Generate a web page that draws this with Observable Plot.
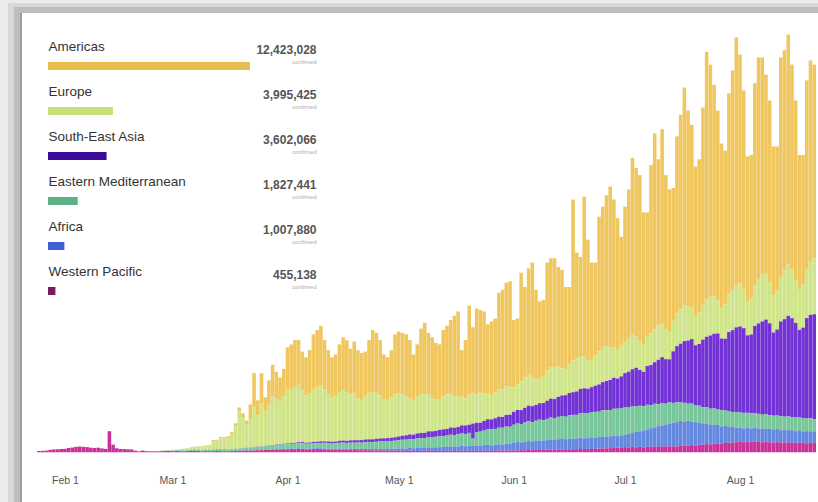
<!DOCTYPE html>
<html><head><meta charset="utf-8">
<script src="https://cdn.jsdelivr.net/npm/d3@7"></script>
<script src="https://cdn.jsdelivr.net/npm/@observablehq/plot@0.6"></script>
<style>
html,body{margin:0;padding:0;width:818px;height:502px;overflow:hidden;background:#ececec;}
#f1{position:absolute;left:8px;top:3px;right:0;bottom:0;background:#d8d8d8;}
#f2{position:absolute;left:14px;top:7px;right:0;bottom:0;background:#bebebe;}
#f3{position:absolute;left:20px;top:13px;right:0;bottom:0;background:#9c9c9c;}
#card{position:absolute;left:22px;top:13px;width:796px;height:489px;background:#fff;overflow:hidden;}
#chart,#legend{position:absolute;left:0;top:0;}
</style></head><body>
<div id="f1"></div><div id="f2"></div><div id="f3"></div>
<div id="card"><div id="chart"></div><div id="legend"></div></div>
<script>
// ---- categories ----
const regions = ["Americas","Europe","South-East Asia","Eastern Mediterranean","Africa","Western Pacific"];
const stackOrder = ["Western Pacific","Africa","Eastern Mediterranean","South-East Asia","Europe","Americas"];
const totals = [12423028, 3995425, 3602066, 1827441, 1007880, 455138];
const firstDay = "2020-01-25";           // first daily value
const axisStart = "2020-01-20", axisEnd = "2020-08-22";
const tickDates = ["2020-02-01","2020-03-01","2020-04-01","2020-05-01","2020-06-01","2020-07-01","2020-08-01"];
const tickLabels = ["Feb 1","Mar 1","Apr 1","May 1","Jun 1","Jul 1","Aug 1"];

// ---- daily confirmed cases, thousands (Jan 25 – Aug 21, 2020) ----
const americas = [
 0,0,0,0,0,0,0,
 0,0,0,0,0,0,0,0,0,0,0,0,0,0,0,0,0,0,0,0,0,0,0,0,0.01,0.01,0.02,0.02,0.03,
 0.05,0.05,0.05,0.1,0.1,0.2,0.2,0.3,0.4,0.4,0.5,0.7,0.8,1.0,1.1,1.3,1.5,2.0,2.6,3.2,3,10,23.5,10.3,21,9.7,16.4,22,18.8,16.5,19.3,
 29.1,31.6,32.6,31.2,27.1,26.5,30.4,38,39.9,41.5,34.6,30.7,27.8,28.8,33.2,37,36.2,31.9,35.8,33.8,32.7,31.3,37.2,43.2,41.8,38.6,31.5,30.3,33.1,41.7,
 43.2,42.7,43.4,40.8,31.9,36.1,45.7,49.7,42.6,41.6,39.3,38.6,46.2,47.9,52.0,56.1,59.6,32.5,40.5,62.0,46.2,59.7,57.6,57.3,48.2,51.3,51.5,67.4,69.6,72.2,74.0,
 47.0,45.7,75.8,63.2,74.7,80.1,62.2,54.0,52.9,75.3,75.8,76.1,69.5,68.6,57.4,53.9,112.3,73.8,69.1,111.6,83.9,67.8,64.8,93.9,98.3,105.5,111.8,103.3,91.8,75.3,
 94.0,104.0,123.3,117.3,115.8,92.1,86.1,117.4,136.4,115.7,135.9,107.3,99.4,92.8,123.2,135.5,151.7,136.3,127.3,104.6,106.7,137.7,172.7,161.8,147.6,132.4,114.9,107.1,139.4,153.1,173.1,
 159.5,138.7,100.7,100.1,141.1,154.4,151.0,138.7,126.3,103.7,100.6,153.0,153.4,160.1,142.7,125.0,93.9,90.3,131.7,140.4,135.0];
const europe = [
 0,0,0,0,0,0,0,
 0,0,0,0,0,0,0,0,0,0,0,0,0,0,0,0,0,0,0,0,0.02,0.05,0.08,0.08,0.1,0.1,0.2,0.3,0.25,
 0.45,0.55,0.75,1.1,1.3,1.6,1.8,2.2,2.6,2.6,3.0,6.0,5.7,7.5,7.3,7.8,10.5,15.8,26,21,16,20,28,22,30,24,29,34,32,30,33,
 38,37,39,40,36,33,34,37,38,39,36,33,31,32,34,35,34,32,33,29,28,30,32,33,32,30,27,26,28,30,
 30,29,27,25,24,26,27,27,26,24,22,21,23,24,23,22,21,20,19,21,21,20,21,19,18,17,18,19,19,20,19,
 17,18,20,21,21,20,18,17,19,21,22,22,21,19,18,20,22,23,23,22,20,19,21,23,24,24,23,21,20,22,
 22,23,24,22,20,19,21,22,23,24,23,21,19,21,23,24,25,24,22,20,22,24,26,27,26,23,21,24,27,28,29,
 30,27,24,25,28,31,33,32,29,26,27,31,34,36,34,30,28,30,34,37,39];
const seAsia = [
 0,0,0,0,0,0,0,
 0,0,0,0,0,0,0,0,0,0,0,0,0,0,0,0,0,0,0,0,0,0,0,0,0,0,0,0,0,
 0,0,0,0,0,0,0.01,0.01,0.01,0.02,0.02,0.02,0.03,0.03,0.04,0.05,0.05,0.06,0.08,0.1,0.1,0.12,0.15,0.15,0.18,0.2,0.25,0.3,0.3,0.35,0.4,
 0.5,0.6,0.6,0.7,0.8,0.7,0.8,0.9,1.0,1.1,1.0,1.2,1.3,1.2,1.4,1.5,1.4,1.6,1.7,1.6,1.8,1.9,1.8,2.0,2.1,2.0,2.2,2.3,2.2,2.4,
 2.6,2.8,3.0,3.3,3.1,3.5,3.8,3.6,4.0,4.3,4.1,4.5,4.7,4.6,5.0,5.3,5.1,5.6,5.9,5.7,10.5,6.4,6.2,6.8,7.0,6.9,7.4,7.7,7.5,8.1,8.4,
 9.0,9.4,9.8,10.3,10.8,11.2,11.0,11.5,12.0,12.6,13.2,13.6,14.0,14.3,15.0,15.5,15.8,16.3,16.9,17.5,17.0,17.4,18.2,19.0,19.7,20.4,21.0,21.6,21.0,22.3,
 24,25,26,27,25,24,27,28,29,31,32,31,30,36,39,41,43,44,45,42,43,47,49,51,52,53,50,50,55,57,59,
 60,59,54,55,61,63,65,66,64,58,60,66,68,70,69,66,61,63,70,72,73];
const eastMed = [
 0,0,0,0,0,0,0,
 0,0,0,0,0,0,0,0,0,0,0,0,0,0,0,0,0,0,0,0.01,0.02,0.03,0.04,0.03,0.05,0.1,0.15,0.2,0.2,
 0.4,0.5,0.6,0.6,0.7,1.0,1.0,0.8,0.7,0.9,1.0,1.1,1.3,1.4,1.5,1.3,1.3,1.4,1.5,1.7,1.8,1.9,2.1,2.2,2.3,2.5,2.6,2.7,2.9,3.0,3.1,
 3.3,3.4,3.5,3.6,3.7,3.5,3.4,3.6,3.5,3.8,3.9,3.7,3.6,3.8,3.9,4.1,4.0,4.2,4.3,4.5,4.4,4.6,4.8,4.7,5.0,5.2,5.1,5.3,5.4,5.6,
 5.8,6.0,6.2,6.1,6.4,6.6,6.5,6.9,7.1,7.0,7.3,7.6,7.5,7.9,8.2,8.0,8.4,8.7,8.6,9.0,5.0,9.4,9.8,10.1,10.8,11.2,11.0,11.5,11.9,12.2,12.0,
 12.5,13.0,12.7,13.3,13.8,13.5,14.1,14.5,14.2,14.8,15.3,15.0,15.6,16.0,15.7,16.3,16.7,16.4,17.0,17.4,17.1,17.6,18.0,17.7,18.2,18.6,18.3,18.8,19.1,18.8,
 19.0,18.4,18.5,17.6,17.8,16.9,17.1,16.0,16.4,15.3,15.6,14.5,14.9,13.7,14.0,12.8,13.2,12.1,12.5,11.6,12.1,11.3,11.8,11.0,11.6,10.8,11.4,10.7,11.2,10.5,10.9,
 10.5,10.9,10.2,10.6,9.9,10.4,9.8,10.2,9.6,10.0,9.4,9.8,9.3,9.7,9.1,9.5,9.0,9.3,8.8,9.2,8.6];
const africa = [
 0,0,0,0,0,0,0,
 0,0,0,0,0,0,0,0,0,0,0,0,0,0,0,0,0,0,0,0,0,0,0,0,0,0,0,0,0,
 0,0,0,0,0,0,0,0,0,0,0,0,0,0,0.02,0.03,0.05,0.05,0.06,0.08,0.1,0.1,0.12,0.15,0.15,0.2,0.2,0.25,0.25,0.3,0.3,
 0.3,0.35,0.4,0.4,0.4,0.45,0.5,0.5,0.5,0.55,0.6,0.6,0.55,0.6,0.7,0.7,0.75,0.8,0.8,0.8,0.9,0.9,1.0,1.0,1.1,1.1,1.2,1.2,1.3,1.4,
 1.5,1.7,1.6,1.9,1.8,2.1,2.2,2.0,2.4,2.3,2.6,2.5,2.8,2.7,3.0,2.9,3.1,3.3,3.2,3.5,3.4,3.7,3.6,3.9,4.1,3.8,4.2,4.4,4.1,4.5,4.6,
 5.5,5.8,5.4,6.0,6.3,5.9,6.2,6.6,6.3,6.8,7.0,6.7,7.1,7.4,7.0,7.5,7.2,7.6,7.9,7.5,7.8,8.1,7.7,8.0,8.3,7.9,8.2,8.5,8.1,8.4,
 8.6,9.4,9.6,10.8,10.9,11.8,12.1,13.2,13.4,14.5,14.6,15.6,15.7,16.8,16.9,17.5,16.6,17.3,16.4,16.2,15.1,15.0,14.0,13.9,13.0,12.8,11.8,11.9,10.8,10.9,10.1,
 10.0,9.6,9.9,9.4,9.7,9.2,9.5,9.0,9.3,8.8,9.1,8.6,8.9,8.4,8.7,8.3,8.5,8.1,8.4,7.9,8.2];
const westPac = [
 0.7,0.8,1.0,1.5,1.8,1.9,2.1,
 2.2,2.8,3.1,3.6,3.8,3.6,3.4,3.0,2.8,3.0,2.5,2.1,14.5,5.1,2.6,2.1,2.0,1.9,1.8,0.9,0.5,1.0,0.6,0.5,0.5,0.5,0.6,0.7,0.8,
 0.6,0.7,0.6,0.5,0.6,0.7,0.8,0.7,0.5,0.6,0.5,0.6,0.7,0.6,0.5,0.5,0.6,0.7,0.8,0.9,1.0,1.0,1.1,1.2,1.3,1.4,1.5,1.6,1.7,1.8,1.9,
 1.8,2.0,1.9,2.1,2.0,1.8,1.9,2.0,2.1,2.0,1.9,1.8,1.7,1.6,1.8,1.7,1.6,1.5,1.4,1.3,1.2,1.3,1.2,1.1,1.0,1.1,1.0,0.9,1.0,0.9,
 0.9,0.8,0.8,0.9,0.8,0.7,0.8,0.8,0.9,0.8,0.7,0.8,0.8,0.9,0.8,0.7,0.8,0.9,0.8,0.8,0.9,0.8,0.8,0.9,0.9,0.8,0.9,1.0,0.9,1.0,1.0,
 1.0,1.1,1.3,1.2,1.4,1.3,1.5,1.4,1.6,1.5,1.7,1.6,1.8,1.7,1.9,1.8,2.0,1.9,2.1,2.0,2.2,2.1,2.3,2.4,2.5,2.6,2.7,2.8,3.0,3.2,
 3.4,3.2,3.6,3.3,3.5,3.2,3.7,3.4,3.8,3.5,3.9,3.6,4.0,3.7,3.9,4.2,4.5,4.3,4.8,4.6,5.1,5.0,5.5,5.3,5.8,6.0,5.9,6.3,6.6,6.5,6.9,
 7.0,6.8,7.2,6.9,7.3,7.0,6.7,7.1,6.8,6.5,6.9,6.6,6.4,6.8,6.5,6.2,6.6,6.3,6.1,6.5,6.2];

// ---- styling ----
const chartColors = ["#f0c75e","#d0e58a","#7332d5","#77c79b","#6487e0","#c83296"];
const legendColors = ["#e9be50","#c8e17d","#3a0c98","#5faf87","#415fd2","#7d195f"];

// ---- build tables ----
const fmtKey = d3.utcFormat("%Y-%m-%d");
const parse = d3.utcParse("%Y-%m-%d");
const dayKeys = d3.utcDays(parse(axisStart), d3.utcDay.offset(parse(axisEnd), 1)).map(fmtKey);
const seriesByRegion = {"Americas": americas, "Europe": europe, "South-East Asia": seAsia,
  "Eastern Mediterranean": eastMed, "Africa": africa, "Western Pacific": westPac};
const rows = [];
for (const r of regions) {
  seriesByRegion[r].forEach((v, i) => rows.push({date: fmtKey(d3.utcDay.offset(parse(firstDay), i)), region: r, value: v}));
}
const lastKey = fmtKey(d3.utcDay.offset(parse(firstDay), westPac.length - 1));
const legendRows = regions.map((r, i) => ({region: r, total: totals[i]}));

const W = 796, H = 489;
const chart = Plot.plot({
  width: W, height: H,
  marginLeft: 0, marginRight: 0, marginTop: 8.6, marginBottom: 50,
  style: {fontFamily: "'Liberation Sans', Arial, sans-serif", fontSize: "10.5px", color: "#555", background: "transparent"},
  x: {type: "band", domain: dayKeys, range: [-3.4, 797.7], paddingInner: 0.04, paddingOuter: 0,
      ticks: tickDates, tickFormat: d => tickLabels[tickDates.indexOf(d)], tickSize: 0, tickPadding: 24, label: null},
  y: {domain: [0, 300], axis: null},
  color: {domain: regions, range: chartColors},
  marks: [
    Plot.barY(rows, {x: "date", y: "value", fill: "region", order: stackOrder}),
    Plot.ruleY([0], {x1: [firstDay], x2: [lastKey], stroke: "#f2c9ec", strokeWidth: 1.2})
  ]
});
document.getElementById("chart").appendChild(chart);

const legend = Plot.plot({
  width: 310, height: 300,
  marginLeft: 0, marginRight: 0, marginTop: 0, marginBottom: 0,
  style: {fontFamily: "'Liberation Sans', Arial, sans-serif", background: "transparent"},
  x: {domain: [0, totals[0]], range: [26, 228], axis: null},
  y: {type: "point", domain: regions, range: [32, 258], padding: 0, axis: null},
  color: {domain: regions, range: legendColors},
  marks: [
    Plot.text(legendRows, {x: () => 0, y: "region", text: "region", textAnchor: "start", fontSize: 13.5, fill: "#333"}),
    Plot.ruleY(legendRows, {y: "region", x1: () => 0, x2: "total", stroke: "region", strokeWidth: 8, dy: 19.5}),
    Plot.text(legendRows, {y: "region", text: d => d3.format(",")(d.total), frameAnchor: "right", textAnchor: "end", dx: -16, dy: 3.5, fontSize: 12, fontWeight: "bold", fill: "#555"}),
    Plot.text(legendRows, {y: "region", text: () => "confirmed", frameAnchor: "right", textAnchor: "end", dx: -16, dy: 15.5, fontSize: 5.5, fill: "#aaa"})
  ]
});
document.getElementById("legend").appendChild(legend);
</script></body></html>
